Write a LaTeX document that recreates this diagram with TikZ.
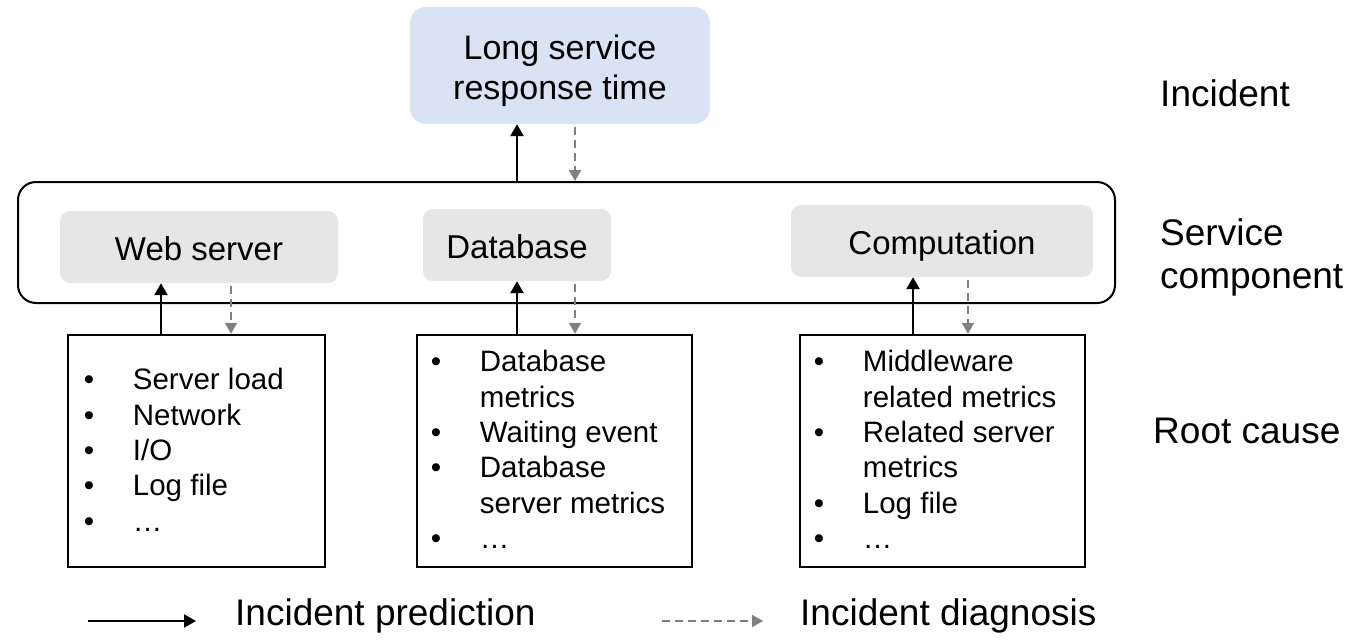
\documentclass[tikz,border=0pt]{standalone}
\usepackage{fontspec}
\setmainfont{Liberation Sans}
\usetikzlibrary{arrows.meta,calc}

\definecolor{incblue}{RGB}{218,227,243}
\definecolor{compgray}{RGB}{230,230,230}
\definecolor{diaggray}{RGB}{127,127,127}

\begin{document}
\begin{tikzpicture}[x=1pt,y=-1pt,
  incbox/.style={rectangle, rounded corners=16pt, fill=incblue,
    minimum width=300pt, minimum height=117pt, inner sep=0pt},
  inctext/.style={align=center, inner sep=0pt, font=\fontsize{34}{40}\selectfont},
  compbox/.style={rectangle, rounded corners=10pt, fill=compgray,
    minimum height=72pt, inner sep=0pt, text height=26pt, text depth=0pt,
    font=\fontsize{33}{39}\selectfont},
  svcframe/.style={rectangle, draw, line width=2pt, rounded corners=18pt,
    minimum width=1097pt, minimum height=121pt, inner sep=0pt},
  rcbox/.style={rectangle, draw, line width=2.5pt, minimum height=232pt, inner sep=0pt},
  rclist/.style={anchor=north west, inner sep=0pt, font=\fontsize{29.5}{35.3}\selectfont},
  layer/.style={anchor=base west, align=left, inner sep=0pt, font=\fontsize{37}{43.5}\selectfont},
  legtext/.style={anchor=base west, inner sep=0pt, font=\fontsize{37}{43}\selectfont},
  pred/.style={line width=2.6pt, -{Triangle[length=12pt,width=13pt]}},
  diag/.style={diaggray, line width=2pt, dash pattern=on 8pt off 5pt,
    -{Triangle[length=11pt,width=12pt]}},
]
\useasboundingbox (0,0) rectangle (1359,643);

% incident
\node[incbox] (inc) at (560,65.5) {};
\node[inctext] (inclbl) at ($(inc.center)+(0,5)$) {Long service\\response time};

% service component layer
\node[svcframe] (svc) at (566.5,242.5) {};
\node[compbox, minimum width=278pt] (web) at (199,247) {Web server};
\node[compbox, minimum width=188pt] (db) at (517,245) {Database};
\node[compbox, minimum width=302pt] (comp) at (942,241) {Computation};

% root causes
\node[rcbox, minimum width=257pt] (rc1) at (196.5,451) {};
\node[rcbox, minimum width=275pt] (rc2) at (554.5,451) {};
\node[rcbox, minimum width=285pt] (rc3) at (942.5,451) {};

\node[rclist] (l1) at ($(rc1.north west)+(17,31.3)$) {%
  \begin{tabular}{@{}p{49pt}@{}l@{}}
  \textbullet & Server load\\
  \textbullet & Network\\
  \textbullet & I/O\\
  \textbullet & Log file\\
  \textbullet & \dots
  \end{tabular}};
\node[rclist] (l2) at ($(rc2.north west)+(15,13.3)$) {%
  \begin{tabular}{@{}p{49pt}@{}l@{}}
  \textbullet & Database\\
              & metrics\\
  \textbullet & Waiting event\\
  \textbullet & Database\\
              & server metrics\\
  \textbullet & \dots
  \end{tabular}};
\node[rclist] (l3) at ($(rc3.north west)+(15,13.3)$) {%
  \begin{tabular}{@{}p{49pt}@{}l@{}}
  \textbullet & Middleware\\
              & related metrics\\
  \textbullet & Related server\\
              & metrics\\
  \textbullet & Log file\\
  \textbullet & \dots
  \end{tabular}};

% layer labels (base anchor sits on the last line)
\node[layer] (lab1) at (1160,106) {Incident};
\node[layer] (lab2) at (1160,288.5) {Service\\component};
\node[layer] (lab3) at (1153,443) {Root cause};

% x positions of the connectors
\coordinate (xa) at (517,0);
\coordinate (xb) at (575,0);
\coordinate (xc) at (161,0);
\coordinate (xd) at (231,0);
\coordinate (xe) at (913,0);
\coordinate (xf) at (968,0);

% connectors
\draw[pred] (svc.north -| xa) -- (inc.south -| xa);
\draw[diag] ([yshift=-3pt]inc.south -| xb) -- (svc.north -| xb);

\draw[pred] (rc1.north -| xc) -- (web.south -| xc);
\draw[diag] ([yshift=-3pt]web.south -| xd) -- (rc1.north -| xd);

\draw[pred] (rc2.north -| xa) -- (db.south -| xa);
\draw[diag] ([yshift=-3pt]db.south -| xb) -- (rc2.north -| xb);

\draw[pred] (rc3.north -| xe) -- (comp.south -| xe);
\draw[diag] ([yshift=-3pt]comp.south -| xf) -- (rc3.north -| xf);

% legend
\coordinate (p0) at (88,621);
\coordinate (p1) at (196,621);
\coordinate (d0) at (662,621);
\coordinate (d1) at (763,621);
\draw[pred, line width=2.4pt] (p0) -- (p1);
\draw[diag] (d0) -- (d1);
\node[legtext] (legp) at (235,625) {Incident prediction};
\node[legtext] (legd) at (800,625) {Incident diagnosis};
\end{tikzpicture}
\end{document}
